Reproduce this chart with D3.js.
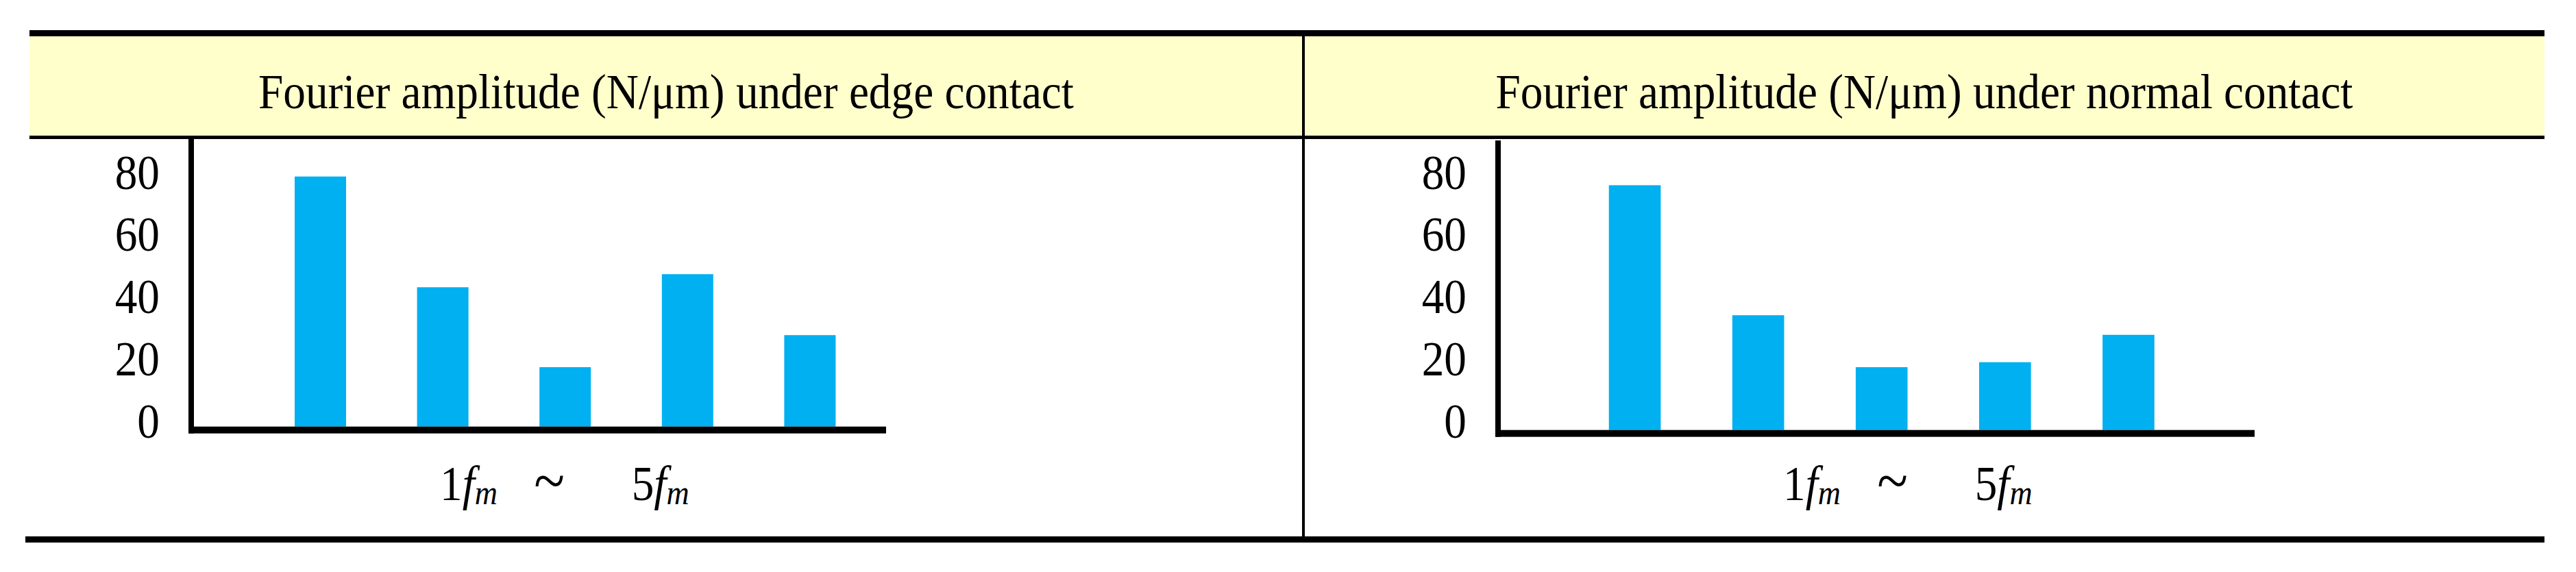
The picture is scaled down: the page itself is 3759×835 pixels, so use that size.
<!DOCTYPE html>
<html>
<head>
<meta charset="utf-8">
<script src="https://cdn.jsdelivr.net/npm/d3@7"></script>
<style>
  body { margin: 0; background: #ffffff; }
  svg { display: block; }
  text { font-family: "Liberation Serif", "Times New Roman", serif; fill: #000; }
</style>
</head>
<body>
<svg id="chart" width="3759" height="835"></svg>
<script>
// data
var harmonics = ["1fm", "2fm", "3fm", "4fm", "5fm"];
var edgeValues = [80.4, 44.8, 19.1, 49.0, 29.4];
var normalValues = [78.7, 36.9, 20.2, 21.8, 30.6];
var yTicks = [0, 20, 40, 60, 80];
var titles = ["Fourier amplitude (N/\u03bcm) under edge contact", "Fourier amplitude (N/\u03bcm) under normal contact"];

var svg = d3.select("#chart");
var squeeze = 0.92; // picture is a bit narrower than the font

// table frame
var tableLeft = 43, tableRight = 3713, divider = 1902;
svg.append("rect")
  .attr("x", tableLeft).attr("y", 53)
  .attr("width", tableRight - tableLeft).attr("height", 146)
  .attr("fill", "#FFFFCC");
svg.append("rect").attr("x", tableLeft).attr("y", 44).attr("width", tableRight - tableLeft).attr("height", 9).attr("fill", "#000");
svg.append("rect").attr("x", tableLeft).attr("y", 198).attr("width", tableRight - tableLeft).attr("height", 5).attr("fill", "#000");
svg.append("rect").attr("x", 37).attr("y", 783).attr("width", tableRight - 37).attr("height", 9).attr("fill", "#000");
svg.append("rect").attr("x", divider - 2).attr("y", 53).attr("width", 4).attr("height", 731).attr("fill", "#000");

var panels = [
  { title: titles[0], values: edgeValues, cellMid: 972, titleLen: 1190,
    axisX: 279, axisTop: 203, base: 622.7, axisEnd: 1293, band: [340.7, 1308.7],
    tickY: 15.5, labelX: 642 },
  { title: titles[1], values: normalValues, cellMid: 2808, titleLen: 1251,
    axisX: 2186, axisTop: 205, base: 627.7, axisEnd: 3290, band: [2257.7, 3233.8],
    tickY: 10.5, labelX: 2602 }
];

panels.forEach(function (p) {
  svg.append("text")
    .attr("x", p.cellMid)
    .attr("y", 158)
    .attr("text-anchor", "middle")
    .attr("font-size", 71)
    .attr("textLength", p.titleLen)
    .attr("lengthAdjust", "spacingAndGlyphs")
    .text(p.title);

  var x = d3.scaleBand()
    .domain(harmonics)
    .range(p.band)
    .paddingInner(0.58)
    .paddingOuter(0.5);

  var y = d3.scaleLinear()
    .domain([0, 80])
    .range([p.base, p.base - 363.2]);

  var g = svg.append("g");

  g.selectAll(".bar")
    .data(p.values)
    .enter()
    .append("rect")
    .attr("class", "bar")
    .attr("x", function (d, i) { return x(harmonics[i]); })
    .attr("width", x.bandwidth())
    .attr("y", function (d) { return y(d); })
    .attr("height", function (d) { return y(0) - y(d); })
    .attr("fill", "#00B0F0");

  // y tick labels, no ticks and no domain line
  var yAxis = g.append("g")
    .attr("transform", "translate(" + p.axisX + ",0)")
    .call(d3.axisLeft(y).tickValues(yTicks).tickSize(0).tickPadding(50));
  yAxis.select(".domain").remove();
  yAxis.selectAll("text")
    .attr("font-size", 71)
    .attr("font-family", "Liberation Serif, Times New Roman, serif")
    .attr("dy", null)
    .attr("y", p.tickY)
    .attr("transform", "scale(" + squeeze + ",1)");

  // axis lines
  g.append("rect")
    .attr("x", p.axisX - 4).attr("y", p.axisTop)
    .attr("width", 8).attr("height", y(0) - p.axisTop + 10)
    .attr("fill", "#000");
  g.append("rect")
    .attr("x", p.axisX - 4).attr("y", y(0))
    .attr("width", p.axisEnd - p.axisX + 4).attr("height", 10)
    .attr("fill", "#000");

  // x label: 1fm ~ 5fm
  var lab = g.append("text")
    .attr("transform", "translate(" + p.labelX + ",730) scale(" + squeeze + ",1)")
    .attr("font-size", 71);
  lab.append("tspan").text("1");
  lab.append("tspan").attr("font-style", "italic").text("f");
  lab.append("tspan").attr("font-style", "italic").attr("font-size", 50).attr("dy", 6).text("m");
  lab.append("tspan").attr("dx", 58).attr("dy", -4).attr("font-size", 90).text("~");
  lab.append("tspan").attr("dx", 106).attr("dy", -2).text("5");
  lab.append("tspan").attr("font-style", "italic").text("f");
  lab.append("tspan").attr("font-style", "italic").attr("font-size", 50).attr("dy", 6).text("m");
});
</script>
</body>
</html>
